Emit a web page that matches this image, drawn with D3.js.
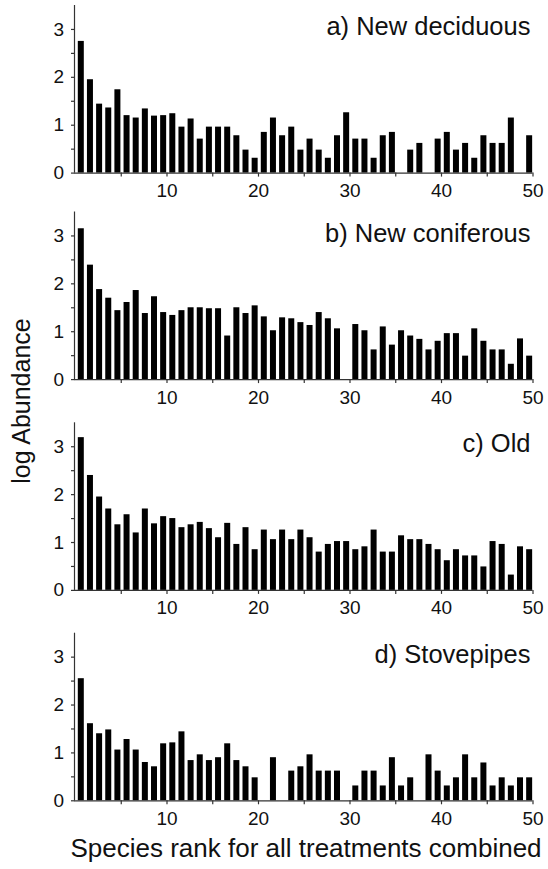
<!DOCTYPE html>
<html>
<head>
<meta charset="utf-8">
<script src="https://cdn.jsdelivr.net/npm/d3@7"></script>
<style>
  body { margin: 0; background: #fff; }
  svg text { font-family: "Liberation Sans", Arial, sans-serif; fill: #111; }
</style>
</head>
<body>
<svg class="container"></svg>
<script>
// species rank 1..50, log abundance per treatment (null = absent)
const ranks = d3.range(1, 51);

const newDeciduous = [2.75, 1.95, 1.44, 1.36, 1.74, 1.20, 1.15, 1.34, 1.19, 1.20,
  1.24, 0.96, 1.13, 0.71, 0.96, 0.96, 0.96, 0.78, 0.48, 0.31,
  0.85, 1.15, 0.78, 0.96, 0.48, 0.71, 0.48, 0.31, 0.78, 1.26,
  0.71, 0.71, 0.31, 0.78, 0.85, null, 0.48, 0.62, null, 0.71,
  0.85, 0.48, 0.62, 0.31, 0.78, 0.62, 0.62, 1.15, null, 0.78];

const newConiferous = [3.15, 2.39, 1.88, 1.70, 1.44, 1.61, 1.86, 1.38, 1.73, 1.40,
  1.34, 1.44, 1.50, 1.50, 1.48, 1.48, 0.91, 1.50, 1.38, 1.54,
  1.31, 1.02, 1.29, 1.27, 1.19, 1.13, 1.40, 1.27, 1.06, null,
  1.15, 1.02, 0.62, 1.10, 0.72, 1.02, 0.91, 0.84, 0.62, 0.80,
  0.96, 0.96, 0.49, 1.06, 0.80, 0.62, 0.62, 0.32, 0.85, 0.49];

const oldStands = [3.19, 2.40, 1.95, 1.70, 1.37, 1.58, 1.20, 1.70, 1.39, 1.54,
  1.50, 1.31, 1.37, 1.42, 1.29, 1.10, 1.40, 0.96, 1.31, 0.85,
  1.26, 1.06, 1.26, 1.06, 1.26, 1.10, 0.80, 0.96, 1.02, 1.02,
  0.85, 0.91, 1.26, 0.80, 0.80, 1.14, 1.06, 1.06, 0.96, 0.85,
  0.62, 0.85, 0.72, 0.72, 0.49, 1.02, 0.96, 0.32, 0.91, 0.85];

const stovepipes = [2.55, 1.61, 1.40, 1.48, 1.06, 1.28, 1.06, 0.80, 0.71, 1.19,
  1.21, 1.44, 0.84, 0.96, 0.84, 0.90, 1.19, 0.84, 0.71, 0.48,
  null, 0.90, null, 0.62, 0.71, 0.96, 0.62, 0.62, 0.62, null,
  0.31, 0.62, 0.62, 0.31, 0.90, 0.31, 0.48, null, 0.96, 0.62,
  0.31, 0.48, 0.96, 0.48, 0.79, 0.31, 0.48, 0.31, 0.48, 0.48];

const panelTitles = ['a) New deciduous', 'b) New coniferous', 'c) Old', 'd) Stovepipes'];
const panelSeries = [newDeciduous, newConiferous, oldStands, stovepipes];
const yTicks = [0, 1, 2, 3];
const xTickLabels = [10, 20, 30, 40, 50];

const w = 548, h = 869,
  left = 75, right = 532.5,
  panelTops = [5, 211.5, 422.3, 632.7],
  panelH = 167.6;

const svg = d3.select('.container').attr('width', w).attr('height', h);

const xScale = d3.scaleLinear().domain([0, 50]).range([left, right]);

panelSeries.forEach((series, p) => {
  const top = panelTops[p];
  const yScale = d3.scaleLinear().domain([0, 3.5]).range([top + panelH, top]);
  const data = ranks.map((r, i) => ({ rank: r, value: series[i] })).filter(d => d.value != null);

  const g = svg.append('g').attr('class', 'panel');

  g.selectAll('.bar').data(data).join('rect')
    .attr('class', 'bar')
    .attr('x', d => xScale(d.rank - 1) + 2.8)
    .attr('width', 6)
    .attr('y', d => yScale(d.value))
    .attr('height', d => yScale(0) - yScale(d.value))
    .attr('fill', '#000');

  // y axis: labelled ticks on integers, unlabelled ones on halves
  const yAxis = g.append('g')
    .attr('transform', `translate(${left}, 0)`)
    .call(d3.axisLeft(yScale).tickValues(d3.range(0, 3.01, 0.5)).tickSize(4).tickPadding(7)
      .tickFormat(d => yTicks.includes(d) ? d : ''));
  yAxis.select('.domain').attr('d', `M-0.5,${yScale(3.5)}V${yScale(0)}`);

  const xAxis = g.append('g')
    .attr('transform', `translate(0, ${yScale(0)})`)
    .call(d3.axisBottom(xScale).tickValues(d3.range(5, 51, 5)).tickSize(4).tickPadding(7)
      .tickFormat(d => xTickLabels.includes(d) ? d : ''));
  xAxis.select('.domain').attr('d', `M${left - 0.5},0.5H${right}`);

  svg.selectAll('.domain, .tick line').attr('stroke', '#333').attr('stroke-width', 1.2);
  g.selectAll('.tick text').style('font-size', '19px').attr('fill', '#111');

  g.append('text')
    .attr('x', 530.5)
    .attr('y', yScale(2.87))
    .attr('text-anchor', 'end')
    .style('font-size', '25.5px')
    .text(panelTitles[p]);
});

svg.append('text')
  .attr('transform', 'translate(29.5, 401) rotate(-90)')
  .attr('text-anchor', 'middle')
  .style('font-size', '25px')
  .text('log Abundance');

svg.append('text')
  .attr('x', 306)
  .attr('y', 857)
  .attr('text-anchor', 'middle')
  .style('font-size', '26px')
  .text('Species rank for all treatments combined');
</script>
</body>
</html>
